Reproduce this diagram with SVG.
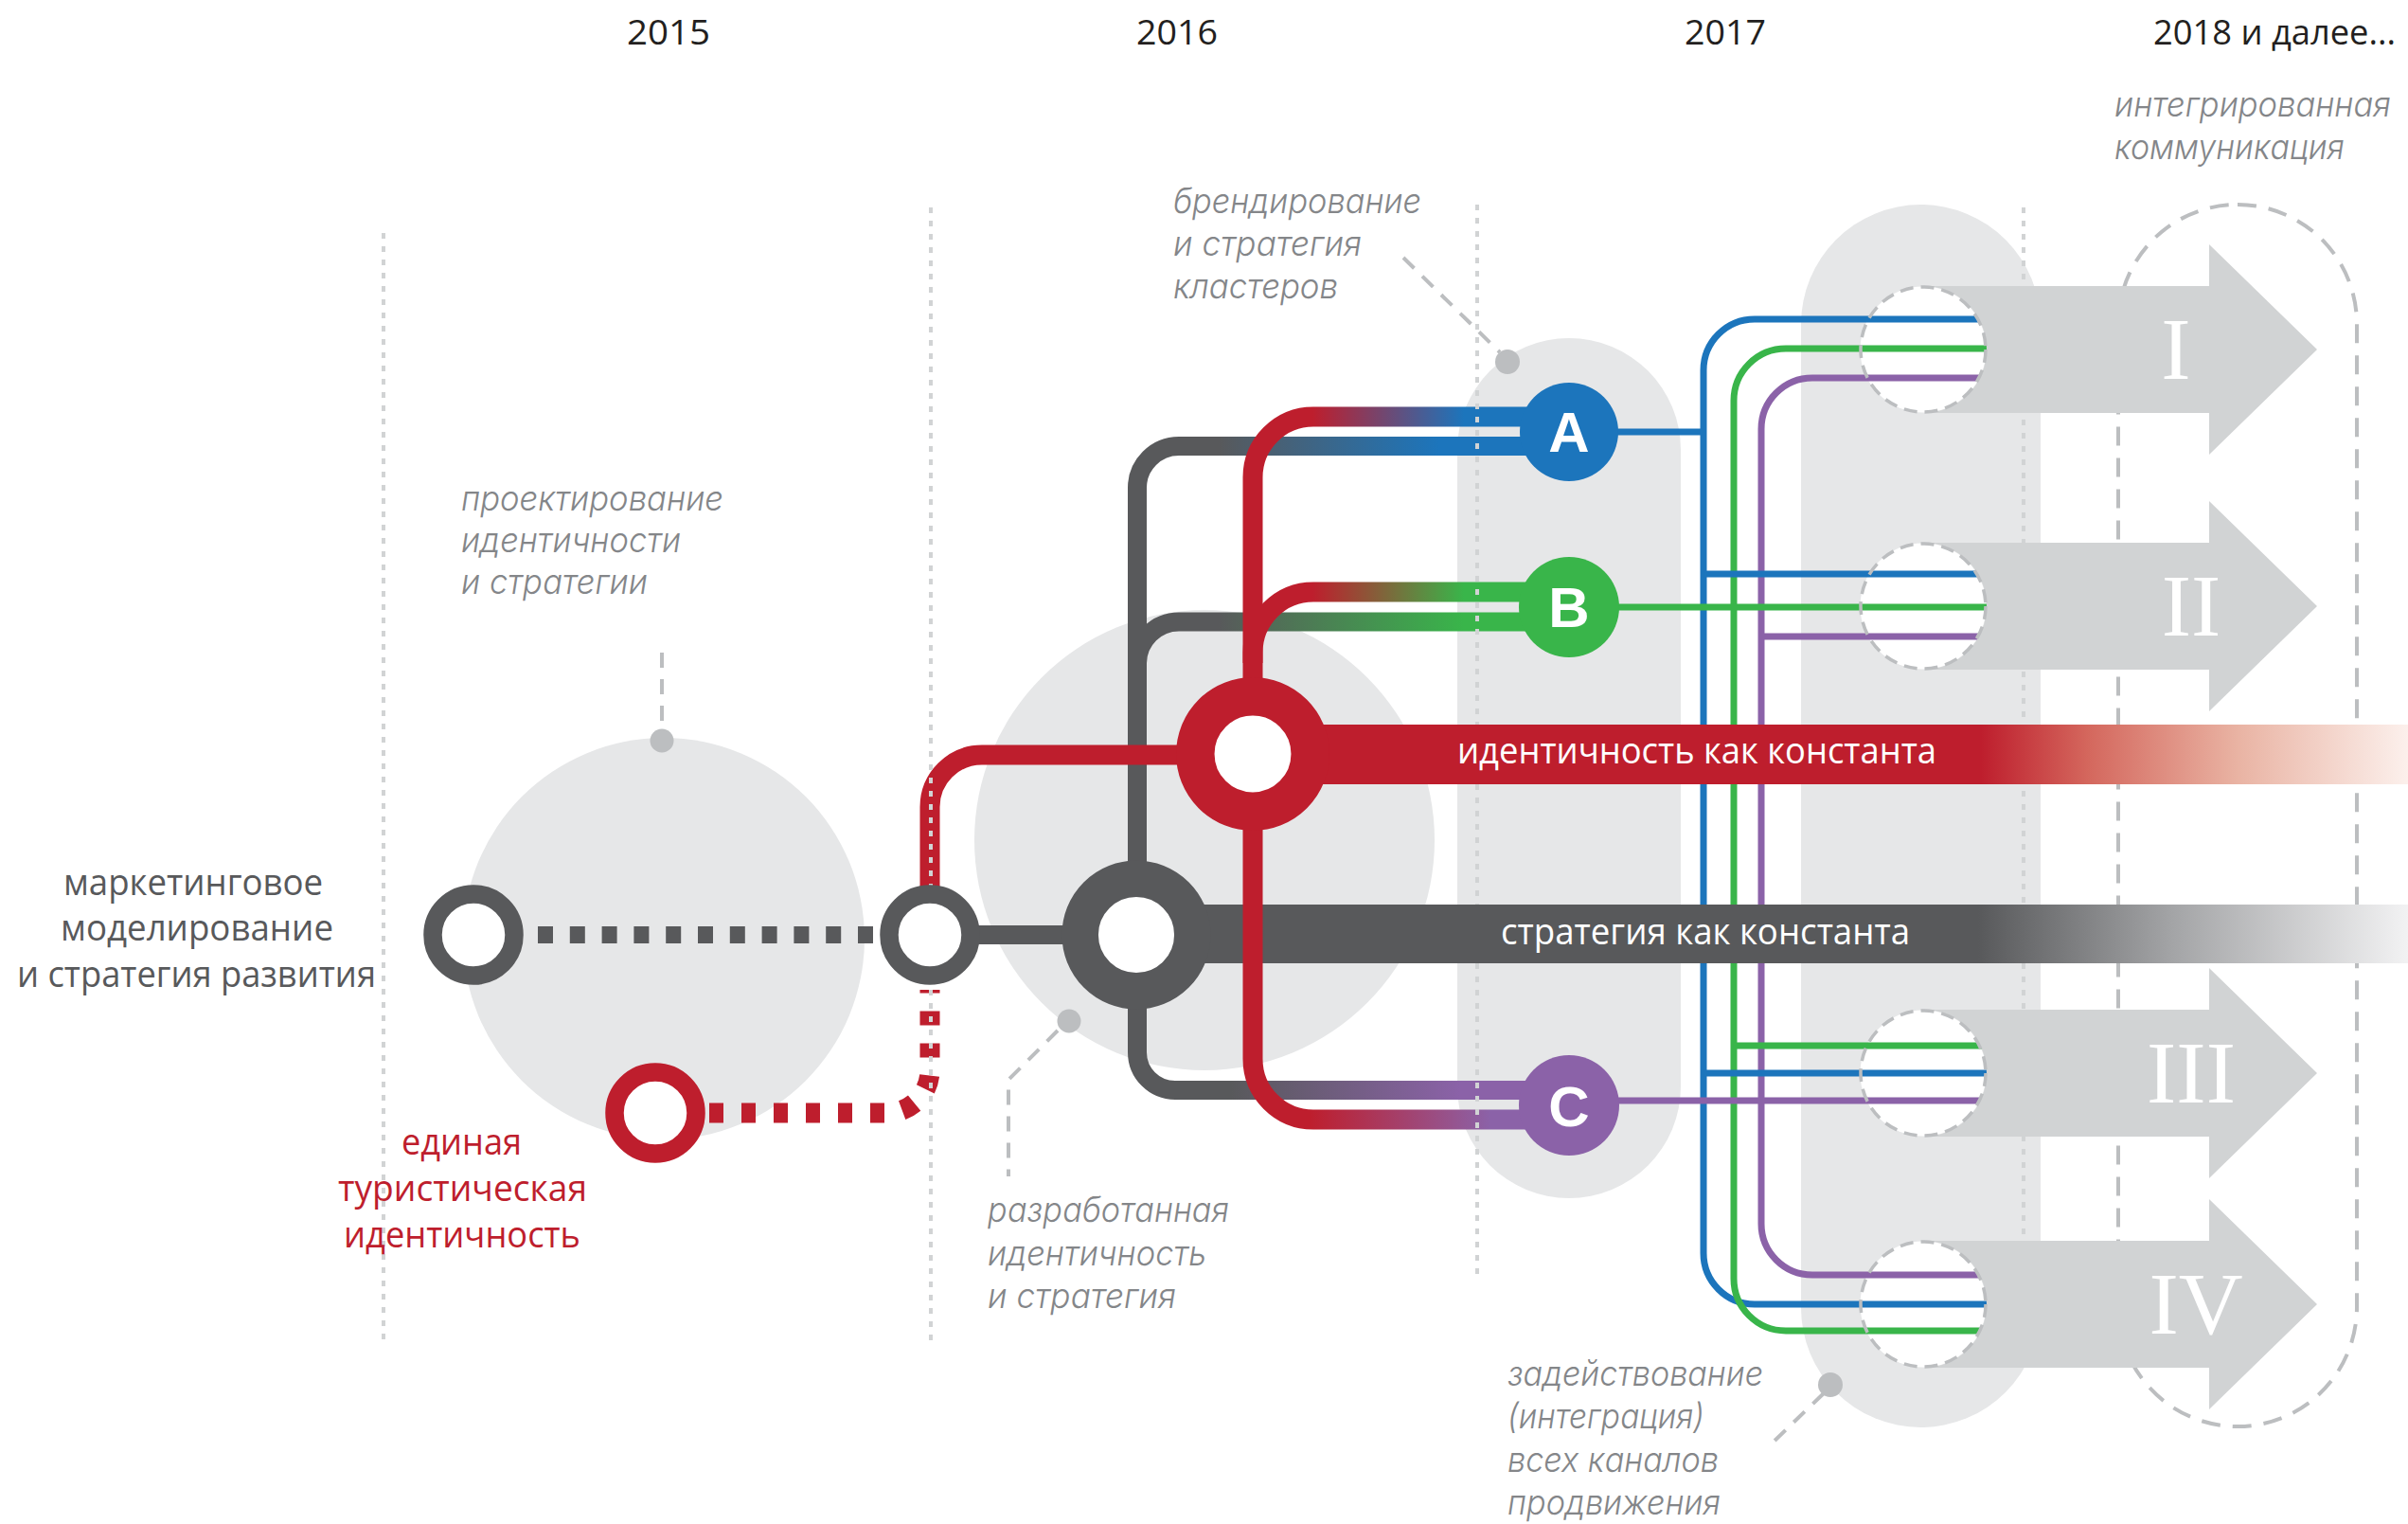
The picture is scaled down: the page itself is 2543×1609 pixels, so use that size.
<svg xmlns="http://www.w3.org/2000/svg" width="2543" height="1609" viewBox="0 0 2543 1609">
<style>
.bg{fill:#e6e7e8}
.sep{fill:none;stroke:#d1d3d4;stroke-width:4;stroke-dasharray:6 8}
.lead{fill:none;stroke:#bcbec0;stroke-width:4;stroke-dasharray:16 12}
.dot{fill:#bcbec0}
.hole{fill:#fff}
.holeline{fill:none;stroke:#bcbec0;stroke-width:3.5;stroke-dasharray:14 8}
.arrow{fill:#d1d3d4}
.thin{fill:none;stroke-width:7}
.dk{fill:none;stroke-width:20}
.rd{fill:none;stroke-width:21}
.cap{font-family:Inter,Roboto,'Liberation Sans',sans-serif;font-style:italic;font-weight:300;font-size:37px;fill:#848689}
.lab{font-family:'Open Sans','Noto Sans','Liberation Sans',sans-serif;font-size:38px}
.yr{font-family:'Open Sans','Noto Sans','Liberation Sans',sans-serif;font-size:37px;fill:#231f20}
.rom{font-family:'Liberation Serif',serif;font-size:94px;fill:#fff;text-anchor:middle}
.let{font-family:'Liberation Sans',Arial,sans-serif;font-weight:bold;font-size:60px;fill:#fff;text-anchor:middle}
</style>
<defs>
<linearGradient id="gAd" gradientUnits="userSpaceOnUse" x1="1287" y1="0" x2="1520" y2="0"><stop offset="0" stop-color="#58595b"/><stop offset="1" stop-color="#1c75bc"/></linearGradient>
<linearGradient id="gAr" gradientUnits="userSpaceOnUse" x1="1386" y1="0" x2="1546" y2="0"><stop offset="0" stop-color="#be1e2d"/><stop offset="1" stop-color="#1c75bc"/></linearGradient>
<linearGradient id="gBd" gradientUnits="userSpaceOnUse" x1="1287" y1="0" x2="1546" y2="0"><stop offset="0" stop-color="#58595b"/><stop offset="1" stop-color="#39b54a"/></linearGradient>
<linearGradient id="gBr" gradientUnits="userSpaceOnUse" x1="1386" y1="0" x2="1546" y2="0"><stop offset="0" stop-color="#be1e2d"/><stop offset="1" stop-color="#39b54a"/></linearGradient>
<linearGradient id="gCd" gradientUnits="userSpaceOnUse" x1="1300" y1="0" x2="1542" y2="0"><stop offset="0" stop-color="#58595b"/><stop offset="1" stop-color="#8b62a8"/></linearGradient>
<linearGradient id="gCr" gradientUnits="userSpaceOnUse" x1="1383" y1="0" x2="1574" y2="0"><stop offset="0" stop-color="#be1e2d"/><stop offset="1" stop-color="#8b62a8"/></linearGradient>
<linearGradient id="gId" gradientUnits="userSpaceOnUse" x1="2092" y1="0" x2="2543" y2="0"><stop offset="0" stop-color="#be1e2d"/><stop offset="0.25" stop-color="#d4675d"/><stop offset="0.6" stop-color="#e9b3a3"/><stop offset="1" stop-color="#fcf0ec"/></linearGradient>
<linearGradient id="gSt" gradientUnits="userSpaceOnUse" x1="2089" y1="0" x2="2543" y2="0"><stop offset="0" stop-color="#58595b"/><stop offset="0.45" stop-color="#a3a4a6"/><stop offset="1" stop-color="#f2f2f3"/></linearGradient>
</defs>

<g id="backgrounds">
<circle class="bg" cx="701" cy="991" r="212"/>
<circle class="bg" cx="1272" cy="887" r="243"/>
<rect class="bg" x="1539" y="357" width="236" height="908" rx="118" ry="118"/>
<rect class="bg" x="1902" y="216" width="253" height="1291" rx="126.5" ry="126.5"/>
<rect x="2237" y="216" width="252" height="1290" rx="126" ry="126" fill="none" stroke="#bcbec0" stroke-width="4" stroke-dasharray="20 13"/>
<path class="sep" d="M2137 219V1320"/>
</g>

<g id="arrow-holes">
<circle class="hole" cx="2031" cy="369" r="66.5"/>
<circle class="hole" cx="2031" cy="640" r="66.5"/>
<circle class="hole" cx="2031" cy="1133" r="66.5"/>
<circle class="hole" cx="2031" cy="1377" r="66.5"/>
</g>

<g id="connectors">
<g id="thin-lines">
<path class="thin" stroke="#1c75bc" d="M2100 337H1853A54 54 0 0 0 1799 391V1323A54 54 0 0 0 1853 1377H2100"/>
<path class="thin" stroke="#8b62a8" d="M2100 399H1914A54 54 0 0 0 1860 453V1292A54 54 0 0 0 1914 1346H2100"/>
<path class="thin" stroke="#39b54a" d="M2100 368H1886A55 55 0 0 0 1831 423V1350A55 55 0 0 0 1886 1405H2100"/>
<path class="thin" stroke="#1c75bc" d="M1700 456H1799"/>
<path class="thin" stroke="#1c75bc" d="M1799 606H2100"/>
<path class="thin" stroke="#1c75bc" d="M1799 1133H2100"/>
<path class="thin" stroke="#39b54a" d="M1700 641H2100"/>
<path class="thin" stroke="#39b54a" d="M1831 1104H2100"/>
<path class="thin" stroke="#8b62a8" d="M1860 672H2100"/>
<path class="thin" stroke="#8b62a8" d="M1700 1162H2100"/>
</g>
</g>

<g id="arrows">
<g id="arrow-I">
<path class="arrow" d="M2031 302H2333V258L2447 369L2333 480V436H2031A67 67 0 0 0 2031 302Z"/>
<circle class="holeline" cx="2031" cy="369" r="66"/>
<text class="rom" x="2298" y="400">I</text>
</g>
<g id="arrow-II">
<path class="arrow" d="M2031 573H2333V529L2447 640L2333 751V707H2031A67 67 0 0 0 2031 573Z"/>
<circle class="holeline" cx="2031" cy="640" r="66"/>
<text class="rom" x="2314" y="671">II</text>
</g>
<g id="arrow-III">
<path class="arrow" d="M2031 1066H2333V1022L2447 1133L2333 1244V1200H2031A67 67 0 0 0 2031 1066Z"/>
<circle class="holeline" cx="2031" cy="1133" r="66"/>
<text class="rom" x="2314" y="1164">III</text>
</g>
<g id="arrow-IV">
<path class="arrow" d="M2031 1310H2333V1266L2447 1377L2333 1488V1444H2031A67 67 0 0 0 2031 1310Z"/>
<circle class="holeline" cx="2031" cy="1377" r="66"/>
<text class="rom" x="2319" y="1408">IV</text>
</g>
</g>

<g id="connectors-main">
<path stroke="#58595b" stroke-width="18" stroke-dasharray="16 17.8" fill="none" d="M568 987H922"/>
<path class="dk" stroke="#58595b" d="M1033 987H1130"/>
<path class="dk" stroke="url(#gAd)" d="M1201 915V515A44 44 0 0 1 1245 471H1620"/>
<path class="dk" stroke="url(#gBd)" d="M1201 720V700A44 44 0 0 1 1245 656.5H1620"/>
<path class="dk" stroke="url(#gCd)" d="M1201 1060V1111A40 40 0 0 0 1241 1151H1620"/>
<rect id="strategy-band" x="1200" y="955" width="1343" height="62" fill="url(#gSt)"/>
<path class="rd" stroke="#be1e2d" stroke-dasharray="15 19" d="M749 1175H937A45 45 0 0 0 982 1130V1045"/>
<path class="rd" stroke="#be1e2d" d="M982 940V852A55 55 0 0 1 1037 797H1250"/>
<path class="rd" stroke="url(#gAr)" d="M1323 730V504A64 64 0 0 1 1387 440H1620"/>
<path class="rd" stroke="url(#gBr)" d="M1323 700V689A64 64 0 0 1 1387 625H1620"/>
<path class="rd" stroke="url(#gCr)" d="M1323 860V1118A64 64 0 0 0 1387 1182H1620"/>
<rect id="identity-band" x="1323" y="765" width="1220" height="63" fill="url(#gId)"/>
</g>

<g id="separators">
<path class="sep" d="M405 246V1421"/>
<path class="sep" d="M983 219V1421"/>
<path class="sep" d="M1560 216V765M1560 828V955M1560 1017V1346"/>
</g>

<g id="node-marketing"><circle cx="500" cy="987" r="43" fill="#fff" stroke="#58595b" stroke-width="19.5"/></g>
<g id="node-mid"><circle cx="982" cy="987" r="43" fill="#fff" stroke="#58595b" stroke-width="19.5"/></g>
<g id="node-tourist"><circle cx="692" cy="1175" r="43" fill="#fff" stroke="#be1e2d" stroke-width="19.5"/></g>
<g id="node-strategy"><circle cx="1200" cy="987" r="59.3" fill="#fff" stroke="#58595b" stroke-width="38.5"/></g>
<g id="node-identity"><circle cx="1323" cy="796" r="60.7" fill="#fff" stroke="#be1e2d" stroke-width="40.5"/></g>
<g id="node-A"><circle cx="1657" cy="456" r="52" fill="#1c75bc"/><text class="let" x="1657" y="477">A</text></g>
<g id="node-B"><circle cx="1657" cy="641" r="53" fill="#39b54a"/><text class="let" x="1657" y="662">B</text></g>
<g id="node-C"><circle cx="1657" cy="1167" r="53" fill="#8b62a8"/><text class="let" x="1657" y="1189">C</text></g>

<g id="band-labels">
<text class="lab" fill="#fff" x="1539" y="806" textLength="506" lengthAdjust="spacingAndGlyphs">идентичность как константа</text>
<text class="lab" fill="#fff" x="1585" y="997" textLength="432" lengthAdjust="spacingAndGlyphs">стратегия как константа</text>
</g>

<g id="years">
<text class="yr" x="662" y="47" textLength="88" lengthAdjust="spacingAndGlyphs">2015</text>
<text class="yr" x="1200" y="47" textLength="86" lengthAdjust="spacingAndGlyphs">2016</text>
<text class="yr" x="1779" y="47" textLength="86" lengthAdjust="spacingAndGlyphs">2017</text>
<text class="yr" x="2274" y="47" textLength="256" lengthAdjust="spacingAndGlyphs">2018 и далее...</text>
</g>

<g id="label-marketing" class="lab" fill="#58595b">
<text x="67" y="945" textLength="274" lengthAdjust="spacingAndGlyphs">маркетинговое</text>
<text x="64" y="993" textLength="288" lengthAdjust="spacingAndGlyphs">моделирование</text>
<text x="18" y="1042" textLength="379" lengthAdjust="spacingAndGlyphs">и стратегия развития</text>
</g>
<g id="label-tourist" class="lab" fill="#be1e2d">
<text x="424" y="1219" textLength="127" lengthAdjust="spacingAndGlyphs">единая</text>
<text x="357" y="1268" textLength="263" lengthAdjust="spacingAndGlyphs">туристическая</text>
<text x="363" y="1317" textLength="250" lengthAdjust="spacingAndGlyphs">идентичность</text>
</g>

<g id="callout-design">
<path class="lead" d="M699 689V772"/>
<circle class="dot" cx="699" cy="782" r="12.5"/>
<text class="cap" x="487" y="539" textLength="277" lengthAdjust="spacingAndGlyphs">проектирование</text>
<text class="cap" x="487" y="583" textLength="232" lengthAdjust="spacingAndGlyphs">идентичности</text>
<text class="cap" x="487" y="627" textLength="197" lengthAdjust="spacingAndGlyphs">и стратегии</text>
</g>
<g id="callout-branding">
<path class="lead" d="M1482 272L1584 372"/>
<circle class="dot" cx="1592" cy="382" r="13"/>
<text class="cap" x="1239" y="225" textLength="262" lengthAdjust="spacingAndGlyphs">брендирование</text>
<text class="cap" x="1239" y="270" textLength="199" lengthAdjust="spacingAndGlyphs">и стратегия</text>
<text class="cap" x="1239" y="315" textLength="174" lengthAdjust="spacingAndGlyphs">кластеров</text>
</g>
<g id="callout-developed">
<path class="lead" d="M1117 1088L1065 1140V1242"/>
<circle class="dot" cx="1129" cy="1078" r="12.5"/>
<text class="cap" x="1043" y="1290" textLength="255" lengthAdjust="spacingAndGlyphs">разработанная</text>
<text class="cap" x="1043" y="1336" textLength="231" lengthAdjust="spacingAndGlyphs">идентичность</text>
<text class="cap" x="1043" y="1381" textLength="199" lengthAdjust="spacingAndGlyphs">и стратегия</text>
</g>
<g id="callout-channels">
<path class="lead" d="M1926 1471L1871 1524"/>
<circle class="dot" cx="1933" cy="1462" r="13"/>
<text class="cap" x="1592" y="1463" textLength="270" lengthAdjust="spacingAndGlyphs">задействование</text>
<text class="cap" x="1592" y="1508" textLength="208" lengthAdjust="spacingAndGlyphs">(интеграция)</text>
<text class="cap" x="1592" y="1554" textLength="223" lengthAdjust="spacingAndGlyphs">всех каналов</text>
<text class="cap" x="1592" y="1599" textLength="225" lengthAdjust="spacingAndGlyphs">продвижения</text>
</g>
<g id="callout-integrated">
<text class="cap" x="2233" y="123" textLength="292" lengthAdjust="spacingAndGlyphs">интегрированная</text>
<text class="cap" x="2233" y="168" textLength="243" lengthAdjust="spacingAndGlyphs">коммуникация</text>
</g>
</svg>
